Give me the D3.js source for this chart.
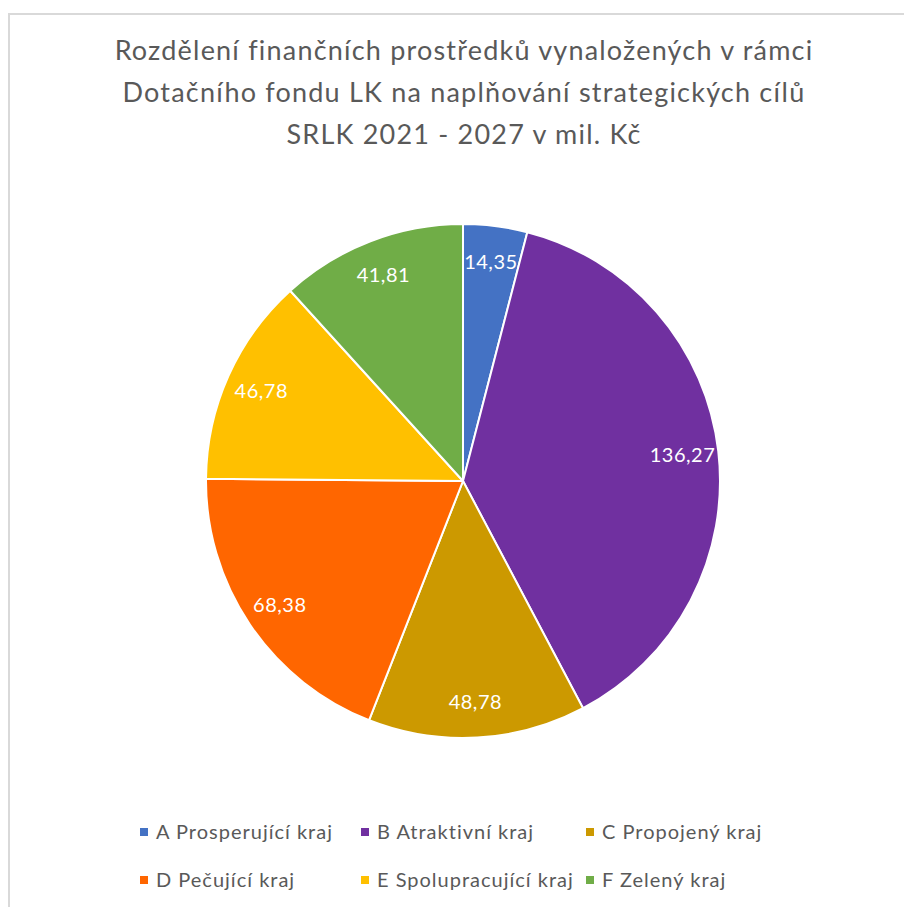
<!DOCTYPE html>
<html>
<head>
<meta charset="utf-8">
<script src="https://cdn.jsdelivr.net/npm/d3@7"></script>
<style>
  html, body { margin: 0; padding: 0; background: #fff; }
  svg { display: block; }
</style>
</head>
<body>
<div id="chart"></div>
<script>
var width = 904, height = 907;

// data
var categories = ['A Prosperující kraj', 'B Atraktivní kraj', 'C Propojený kraj',
                  'D Pečující kraj', 'E Spolupracující kraj', 'F Zelený kraj'];
var values = [14.35, 136.27, 48.78, 68.38, 46.78, 41.81];
var colors = ['#4472c4', '#7030a0', '#cc9900', '#ff6600', '#ffc000', '#70ad47'];
var titleLines = ['Rozdělení finančních prostředků vynaložených v rámci',
                  'Dotačního fondu LK na naplňování strategických cílů',
                  'SRLK 2021 - 2027 v mil. Kč'];

var svg = d3.select('#chart')
  .append('svg')
    .attr('width', width)
    .attr('height', height);

// chart area frame
svg.append('rect')
    .attr('x', 9).attr('y', 14)
    .attr('width', width + 20).attr('height', height + 20)
    .attr('fill', 'none')
    .attr('stroke', '#d9d9d9')
    .attr('stroke-width', 2);

// title
svg.append('g').selectAll('text')
    .data(titleLines)
  .enter().append('text')
    .attr('x', 464)
    .attr('y', function(d, i) { return 60 + i * 42; })
    .attr('text-anchor', 'middle')
    .style('font-family', 'Lato, "Open Sans", sans-serif')
    .style('font-size', '27px')
    .style('letter-spacing', '1.2px')
    .style('fill', '#595959')
    .text(function(d) { return d; });

////////////////////////////
// Pie                    //
////////////////////////////

var cx = 463, cy = 481, radius = 257;

var pie = d3.pie().sort(null).value(function(d) { return d; });
var arcs = pie(values);

var arc = d3.arc().innerRadius(0).outerRadius(radius);
var labelArc = d3.arc().innerRadius(radius * 0.86).outerRadius(radius * 0.86);

var g = svg.append('g').attr('transform', 'translate(' + cx + ',' + cy + ')');

g.selectAll('path')
    .data(arcs)
  .enter().append('path')
    .attr('d', arc)
    .attr('fill', function(d, i) { return colors[i]; })
    .attr('stroke', '#fff')
    .attr('stroke-width', 2)
    .attr('stroke-linejoin', 'round');

var fmt = function(v) { return v.toFixed(2).replace('.', ','); };

g.selectAll('text')
    .data(arcs)
  .enter().append('text')
    .attr('transform', function(d) { return 'translate(' + labelArc.centroid(d) + ')'; })
    .attr('text-anchor', 'middle')
    .attr('dy', '0.35em')
    .style('font-family', 'Lato, "Open Sans", sans-serif')
    .style('font-size', '20px')
    .style('letter-spacing', '0.5px')
    .style('fill', '#fff')
    .text(function(d) { return fmt(d.data); });

////////////////////////////
// Legend                 //
////////////////////////////

var colX = [140, 361, 586];
var rowY = [832, 880];

var legend = svg.append('g').selectAll('g')
    .data(categories)
  .enter().append('g')
    .attr('transform', function(d, i) {
      return 'translate(' + colX[i % 3] + ',' + rowY[Math.floor(i / 3)] + ')';
    });

legend.append('rect')
    .attr('x', 0).attr('y', -4)
    .attr('width', 8).attr('height', 8)
    .attr('fill', function(d, i) { return colors[i]; });

legend.append('text')
    .attr('x', 16)
    .attr('dy', '0.35em')
    .style('font-family', 'Lato, "Open Sans", sans-serif')
    .style('font-size', '20px')
    .style('letter-spacing', '1px')
    .style('fill', '#595959')
    .text(function(d) { return d; });
</script>
</body>
</html>
